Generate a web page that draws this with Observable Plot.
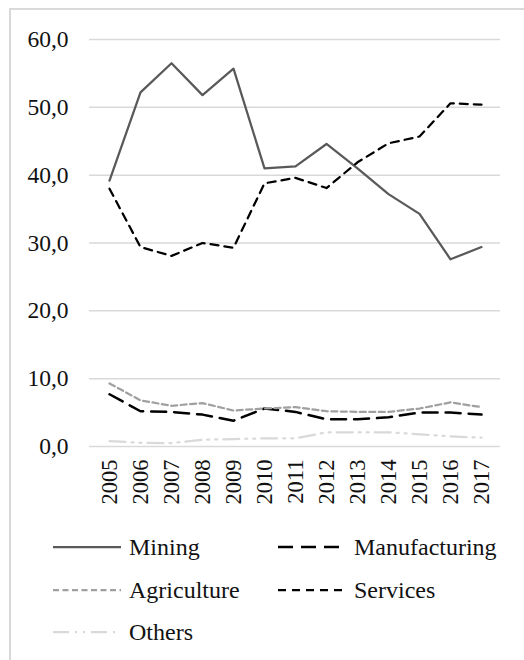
<!DOCTYPE html>
<html>
<head>
<meta charset="utf-8">
<script src="https://cdn.jsdelivr.net/npm/d3@7"></script>
<script src="https://cdn.jsdelivr.net/npm/@observablehq/plot@0.6"></script>
<style>
  html, body { margin: 0; padding: 0; background: #fff; }
  #wrap { position: relative; width: 524px; height: 660px; overflow: hidden; font-family: "Liberation Serif", "Times New Roman", serif; color: #111; }
  #frame { position: absolute; left: 9px; top: 8px; width: 600px; height: 700px; border-left: 2px solid #d9d9d9; border-top: 2px solid #d9d9d9; }
  #chart { position: absolute; left: 0; top: 0; }
  .leg { position: absolute; display: flex; align-items: center; font-size: 24px; }
  .leg svg { margin-right: 8px; }
</style>
</head>
<body>
<div id="wrap">
  <div id="frame"></div>
  <div id="chart"></div>
  <div id="legend"></div>
</div>
<script>
const years = ["2005","2006","2007","2008","2009","2010","2011","2012","2013","2014","2015","2016","2017"];
const mining        = [39.2, 52.2, 56.5, 51.8, 55.7, 41.0, 41.3, 44.6, 41.0, 37.2, 34.3, 27.6, 29.4];
const manufacturing = [7.7, 5.2, 5.1, 4.7, 3.8, 5.6, 5.1, 4.0, 4.0, 4.3, 5.0, 5.0, 4.7];
const agriculture   = [9.3, 6.8, 6.0, 6.4, 5.3, 5.6, 5.8, 5.2, 5.1, 5.1, 5.6, 6.5, 5.8];
const services      = [38.0, 29.4, 28.1, 30.0, 29.3, 38.8, 39.6, 38.1, 41.9, 44.7, 45.7, 50.6, 50.4];
const others        = [0.8, 0.55, 0.5, 1.0, 1.1, 1.2, 1.2, 2.1, 2.1, 2.1, 1.8, 1.5, 1.3];
const yTicks = [0, 10, 20, 30, 40, 50, 60];

const seriesNames = ["Mining", "Manufacturing", "Agriculture", "Services", "Others"];
const seriesValues = [mining, manufacturing, agriculture, services, others];
const styles = {
  Mining:        {stroke: "#595959", strokeWidth: 2.25, dash: null},
  Manufacturing: {stroke: "#000000", strokeWidth: 2.5,  dash: "15,8"},
  Agriculture:   {stroke: "#a0a0a0", strokeWidth: 2.25, dash: "6,3.5"},
  Services:      {stroke: "#000000", strokeWidth: 2.25, dash: "8,6"},
  Others:        {stroke: "#d9d9d9", strokeWidth: 2.25, dash: "16,6,2,6,2,6"}
};

const tables = seriesNames.map((name, i) => years.map((y, j) => ({year: y, value: seriesValues[i][j], series: name})));

const fmt = d => d.toFixed(1).replace(".", ",");

const lineMarks = seriesNames.map((name, i) => Plot.line(tables[i], {
  x: "year", y: "value",
  stroke: styles[name].stroke,
  strokeWidth: styles[name].strokeWidth,
  strokeDasharray: styles[name].dash,
  strokeLinejoin: "round"
}));

const chart = Plot.plot({
  width: 524,
  height: 520,
  marginLeft: 89,
  marginRight: 24,
  marginTop: 39,
  marginBottom: 74,
  style: {fontFamily: "'Liberation Serif', 'Times New Roman', serif", color: "#111", background: "transparent"},
  x: {type: "point", domain: years, padding: 0.5},
  y: {domain: [0, 60]},
  marks: [
    Plot.ruleY(yTicks, {stroke: "#d9d9d9", strokeWidth: 1.5}),
    Plot.axisY(yTicks, {tickFormat: fmt, tickSize: 0, tickPadding: 21, fontSize: 23.5, label: null}),
    Plot.axisX({tickRotate: -90, tickSize: 0, tickPadding: 13, fontSize: 22.5, label: null}),
    ...lineMarks
  ]
});
document.getElementById("chart").appendChild(chart);

// Legend
const legendPos = {
  Mining:        {left: 53,  top: 547},
  Manufacturing: {left: 278, top: 547},
  Agriculture:   {left: 53,  top: 590},
  Services:      {left: 278, top: 590},
  Others:        {left: 53,  top: 632}
};
const legend = document.getElementById("legend");
seriesNames.forEach(name => {
  const s = styles[name];
  const p = legendPos[name];
  const div = document.createElement("div");
  div.className = "leg";
  div.style.left = p.left + "px";
  div.style.top = (p.top - 15) + "px";
  div.style.height = "30px";
  div.innerHTML = `<svg width="68" height="10"><line x1="0" y1="5" x2="68" y2="5" stroke="${s.stroke}" stroke-width="${s.strokeWidth}" ${s.dash ? `stroke-dasharray="${s.dash}"` : ""}/></svg><span>${name}</span>`;
  legend.appendChild(div);
});
</script>
</body>
</html>
